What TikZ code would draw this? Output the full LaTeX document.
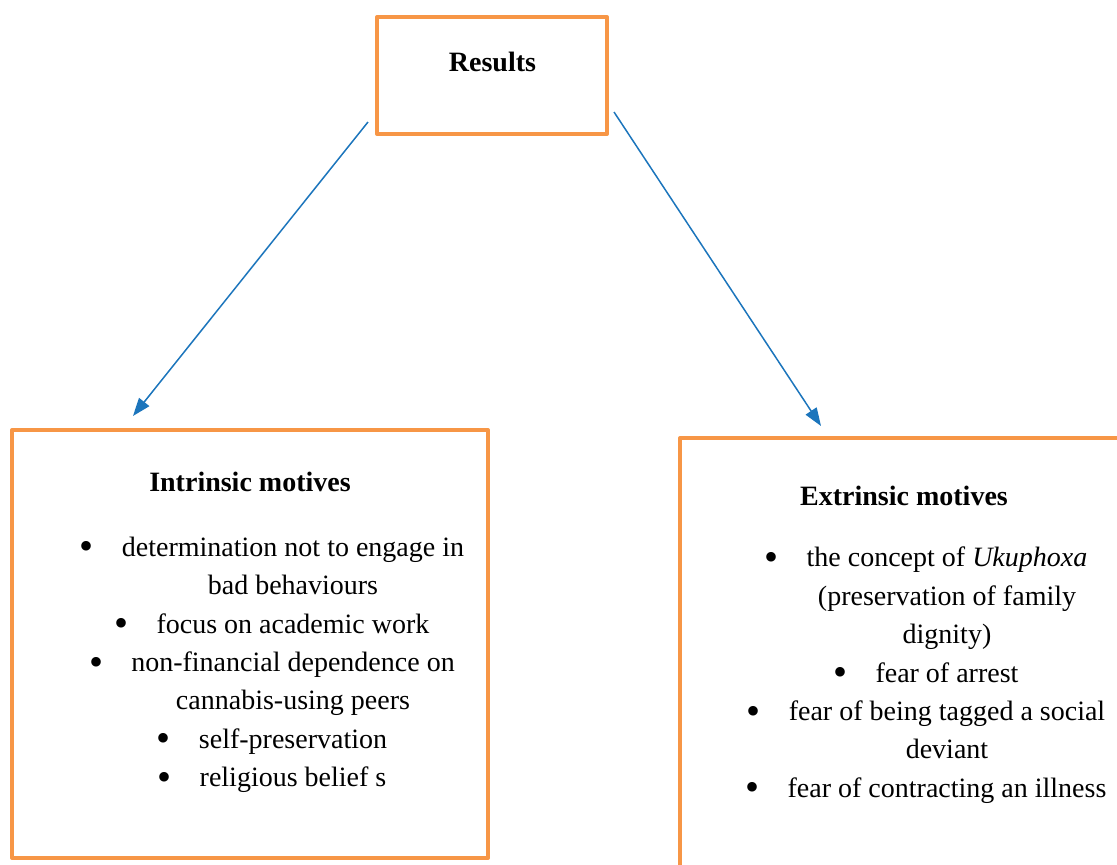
\documentclass[tikz,border=0pt]{standalone}
\usepackage{fontspec}
\setmainfont{Liberation Serif}
\usepackage{xcolor}
\usetikzlibrary{arrows.meta, positioning}

\definecolor{boxorange}{RGB}{247,150,70}
\definecolor{arrblue}{RGB}{28,117,188}
\newcommand{\bul}{\llap{\raisebox{-3.5pt}{\fontsize{40}{0}\selectfont\textbullet}\hspace{28pt}}}

\begin{document}
\begin{tikzpicture}[
    x=1pt, y=-1pt,
    obox/.style={rectangle, draw=boxorange, line width=4pt, line join=round, inner sep=0pt},
    head/.style={font=\fontsize{28}{38.4}\selectfont\bfseries, inner sep=0pt, anchor=base},
    items/.style={font=\fontsize{28}{38.4}\selectfont, align=center, inner sep=0pt, anchor=base},
    arr/.style={-{Triangle[length=18pt,width=13pt]}, line width=1.5pt, color=arrblue}
]
\useasboundingbox (0,0) rectangle (1117,865);
\clip (0,0) rectangle (1117,865);

% boxes
\node[obox, minimum width=230pt, minimum height=117pt] (res_box) at (492,75.5) {};
\node[obox, minimum width=476pt, minimum height=428pt] (intr_box) at (250,644) {};
\node[obox, minimum width=460pt, minimum height=450pt] (extr_box) at (910,663) {};

% headings
\node[head] (res_title) at (492.5,71.7) {Results};
\node[head] (intr_title) at (250,491.7) {Intrinsic motives};
\node[head] (extr_title) at (904,505) {Extrinsic motives};

% bullet lists (anchored on the last line)
\node[items] (intr_list) at (293,786.7) {\bul determination not to engage in\\
    bad behaviours\\
    \bul focus on academic work\\
    \bul non-financial dependence on\\
    cannabis-using peers\\
    \bul self-preservation\\
    \bul religious belief s};
\node[items] (extr_list) at (947,797.3) {\bul the concept of \textit{Ukuphoxa}\\
    (preservation of family\\
    dignity)\\
    \bul fear of arrest\\
    \bul fear of being tagged a social\\
    deviant\\
    \bul fear of contracting an illness};

% arrows
\draw[arr] ([xshift=-7pt,yshift=14pt]res_box.south west) -- ([xshift=123pt,yshift=12pt]intr_box.north west);
\draw[arr] ([xshift=5pt,yshift=24pt]res_box.south east) -- ([xshift=143pt,yshift=10pt]extr_box.north west);

\end{tikzpicture}
\end{document}
